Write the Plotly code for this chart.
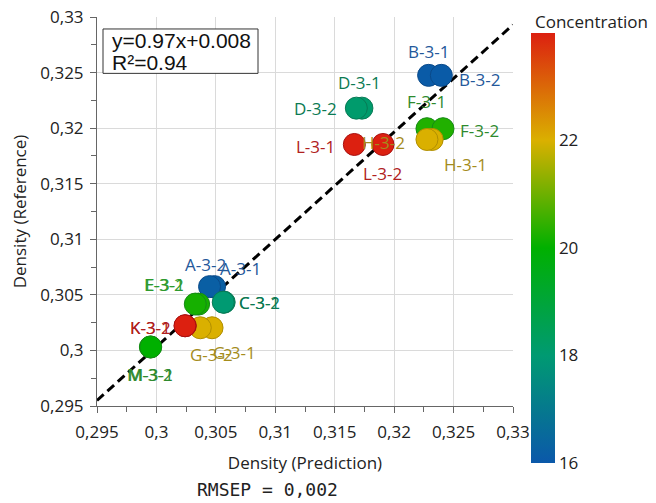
import plotly.graph_objects as go
import numpy as np

# ---------------- data ----------------
names = ["A-3-1", "A-3-2", "B-3-1", "B-3-2", "C-3-1", "C-3-2", "D-3-1", "D-3-2",
         "E-3-1", "E-3-2", "F-3-1", "F-3-2", "G-3-1", "G-3-2", "H-3-1", "H-3-2",
         "K-3-1", "K-3-2", "L-3-1", "L-3-2", "M-3-1", "M-3-2"]
prediction = [0.30489, 0.30447, 0.32290, 0.32397, 0.30570, 0.30562, 0.31729, 0.31682,
              0.30355, 0.30327, 0.32276, 0.32411, 0.30468, 0.30369, 0.32320, 0.32276,
              0.30243, 0.30240, 0.31665, 0.31906, 0.29949, 0.29952]
reference = [0.30574, 0.30574, 0.32475, 0.32475, 0.30434, 0.30434, 0.32180, 0.32180,
             0.30417, 0.30417, 0.31995, 0.31995, 0.30204, 0.30204, 0.31898, 0.31898,
             0.30222, 0.30222, 0.31853, 0.31853, 0.30031, 0.30031]
concentration = [16.2, 16.2, 16.1, 16.1, 18.0, 18.0, 18.1, 18.1,
                 20.2, 20.2, 20.3, 20.3, 22.0, 22.0, 22.0, 22.0,
                 24.0, 24.0, 24.0, 24.0, 20.0, 20.0]
fit_x = [0.295, 0.33]
fit_y = [0.2955, 0.3293]
equation_text = "y=0.97x+0.008"
r2_text = "R²=0.94"
rmsep_text = "RMSEP = 0,002"
axis_range = [0.295, 0.33]
cbar_ticks = [16, 18, 20, 22]
cbar_range = [16, 24]

# ---------------- styles ----------------
colorscale = [[0.0, "#0b58aa"], [0.25, "#009a72"], [0.5, "#00b000"],
              [0.75, "#dab000"], [1.0, "#dc2010"]]
group_text_color = {"A": "#24589a", "B": "#24589a", "C": "#0b7a52", "D": "#0b7a52",
                    "E": "#2e9a2e", "F": "#2e8a2e", "G": "#a48c1c", "H": "#a48c1c",
                    "K": "#b02020", "L": "#b02020", "M": "#2e8a2e"}
group_line_color = {"A": "#0a4a8a", "B": "#0a4a8a", "C": "#087a55", "D": "#087a55",
                    "E": "#168a16", "F": "#168a16", "G": "#b08e00", "H": "#b08e00",
                    "K": "#a81010", "L": "#a81010", "M": "#168a16"}
# label offsets in pixels (dx, dy) ; dy positive = down
label_offsets = {"A-3-1": (26, -18), "A-3-2": (-4, -22), "B-3-1": (0, -24), "B-3-2": (38, 4),
                 "C-3-1": (35, 0), "C-3-2": (36, 0), "D-3-1": (-2, -26), "D-3-2": (-41, 0),
                 "E-3-1": (-34, -20), "E-3-2": (-31, -20), "F-3-1": (0, -27), "F-3-2": (37, 2),
                 "G-3-1": (22, 25), "G-3-2": (11, 27), "H-3-1": (33, 25), "H-3-2": (-43, 3),
                 "K-3-1": (-35, 2), "K-3-2": (-34, 2), "L-3-1": (-39, 2), "L-3-2": (0, 29),
                 "M-3-1": (1, 28), "M-3-2": (-1, 28)}

FONT = "Open Sans"
OFF = 8  # page body margin
W, H = 656 - OFF, 503 - OFF
L, R, T, B = 97 - OFF, 143, 16.5 - OFF, 96.6
PW, PH = W - L - R, H - T - B

def px_x(p):
    return (p - OFF - L) / PW

def px_y(p):
    return (H - B - (p - OFF)) / PH

fig = go.Figure()

fig.add_trace(go.Scatter(
    x=fit_x, y=fit_y, mode="lines",
    line=dict(color="black", width=3, dash="9px,5px"),
    hoverinfo="skip", showlegend=False))

fig.add_trace(go.Scatter(
    x=prediction, y=reference, mode="markers", text=names,
    marker=dict(size=22, color=concentration, colorscale=colorscale,
                cmin=cbar_range[0], cmax=cbar_range[1],
                line=dict(width=1, color=[group_line_color[n[0]] for n in names]),
                opacity=1,
                colorbar=dict(
                    x=px_x(531), xanchor="left", thickness=24, xpad=0, ypad=0,
                    lenmode="pixels", len=430, y=px_y(248), yanchor="middle",
                    outlinewidth=0, ticks="", tickvals=cbar_ticks,
                    tickfont=dict(family=FONT, size=17, color="#222"),
                    ticklabelposition="outside")),
    showlegend=False))

for n, xv, yv in zip(names, prediction, reference):
    dx, dy = label_offsets[n]
    fig.add_annotation(x=xv, y=yv, xref="x", yref="y", text=n, showarrow=False,
                       xshift=dx, yshift=-dy,
                       font=dict(family=FONT, size=17, color=group_text_color[n[0]]))

# equation box
fig.add_shape(type="rect", xref="paper", yref="paper",
              x0=px_x(103), x1=px_x(258), y0=px_y(73), y1=px_y(28.5),
              line=dict(color="#333", width=1), fillcolor="white")
fig.add_annotation(xref="paper", yref="paper", x=px_x(110), y=px_y(40),
                   xanchor="left", yanchor="middle", text=equation_text, showarrow=False,
                   font=dict(family="Liberation Sans", size=21, color="#111"))
fig.add_annotation(xref="paper", yref="paper", x=px_x(110), y=px_y(62),
                   xanchor="left", yanchor="middle", text=r2_text, showarrow=False,
                   font=dict(family="Liberation Sans", size=21, color="#111"))

# colorbar title
fig.add_annotation(xref="paper", yref="paper", x=px_x(591), y=px_y(21),
                   xanchor="center", yanchor="middle", text="Concentration", showarrow=False,
                   font=dict(family=FONT, size=17, color="#222"))
# RMSEP
fig.add_annotation(xref="paper", yref="paper", x=px_x(267), y=px_y(490),
                   xanchor="center", yanchor="middle", text=rmsep_text, showarrow=False,
                   font=dict(family="DejaVu Sans Mono", size=18, color="#222"))

axis_common = dict(
    range=axis_range, tickmode="linear", tick0=0.295, dtick=0.005,
    tickformat=".3~f", showgrid=True, gridcolor="#dadada", gridwidth=1,
    zeroline=False, showline=True, linecolor="#666", linewidth=1,
    ticks="outside", ticklen=6, tickcolor="#666", ticklabeloverflow="allow",
    minor=dict(dtick=0.0025, tick0=0.295, ticks="outside", ticklen=5, tickcolor="#666",
               showgrid=False),
    tickfont=dict(family=FONT, size=17, color="#222"),
)

fig.update_xaxes(**axis_common, ticklabelstandoff=5,
                 title=dict(text="Density (Prediction)", standoff=14,
                            font=dict(family=FONT, size=17, color="#222")))
fig.update_yaxes(**axis_common, ticklabelstandoff=3,
                 title=dict(text="Density (Reference)", standoff=9,
                            font=dict(family=FONT, size=17, color="#222")))

fig.update_layout(
    width=W, height=H, margin=dict(l=L, r=R, t=T, b=B, autoexpand=False),
    paper_bgcolor="white", plot_bgcolor="white",
    separators=",.", showlegend=False,
)

fig.write_html("out.html")
